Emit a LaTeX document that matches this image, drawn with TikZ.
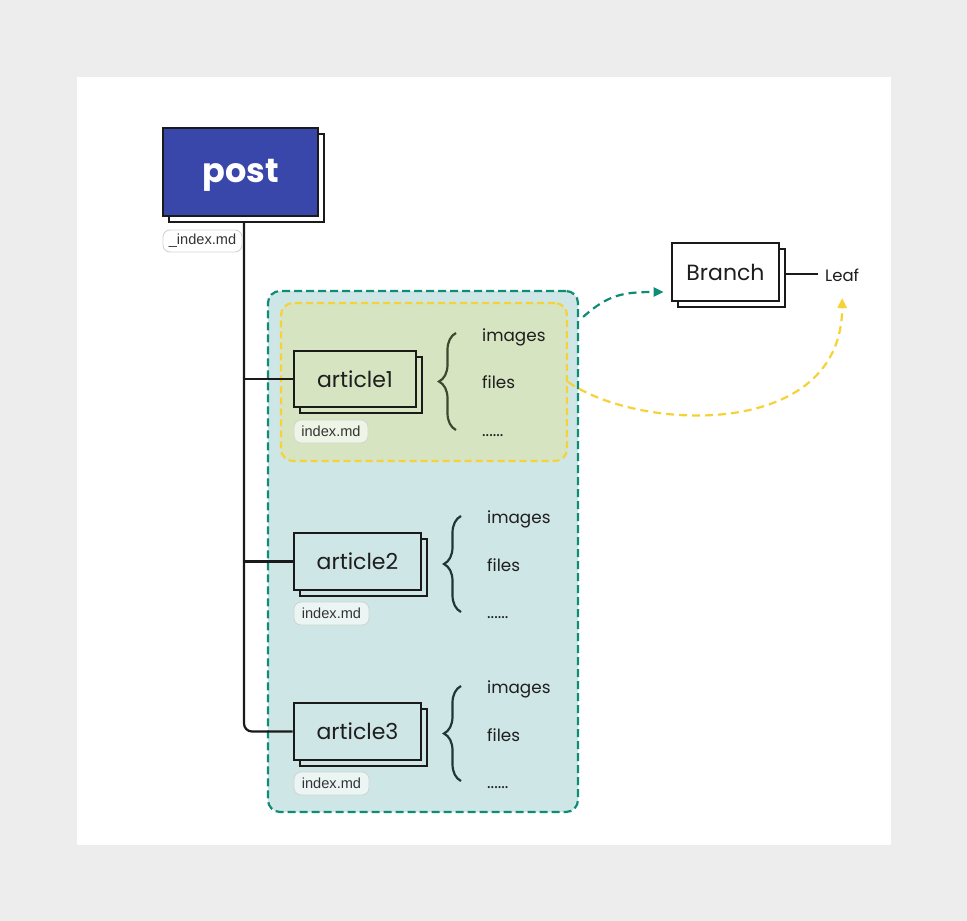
\documentclass[tikz,border=0pt]{standalone}
\usepackage{fontspec}
\setmainfont{Poppins}
\newfontfamily\arialfont{Liberation Sans}
\usetikzlibrary{arrows.meta,decorations.pathreplacing}
\definecolor{bggray}{HTML}{EDEDED}
\definecolor{postblue}{HTML}{3A47AA}
\definecolor{tealline}{HTML}{0E8C76}
\definecolor{tealfill}{HTML}{CEE6E5}
\definecolor{yelline}{HTML}{F7D236}
\definecolor{yelfill}{HTML}{D6E4C1}
\definecolor{boxline}{HTML}{1A1A1A}
\definecolor{textdark}{HTML}{1E1E1E}
\definecolor{labelline}{HTML}{D2D6D2}
\definecolor{labeltext}{HTML}{333333}
\definecolor{braceolive}{HTML}{3A4A2C}
\definecolor{braceteal}{HTML}{1D3836}
\begin{document}
\begin{tikzpicture}[x=1pt,y=-1pt,
  cardbox/.style={draw=boxline, line width=2.8pt, inner sep=0pt, font=\fontsize{22}{26}\selectfont, text=textdark},
  cardshadow/.style={draw=boxline, line width=2.8pt, inner sep=0pt},
  mdlabel/.style={draw=labelline, line width=0.9pt, rounded corners=7pt, inner sep=0pt, font=\arialfont\fontsize{14.6}{17}\selectfont, text=labeltext},
  item/.style={anchor=base west, inner sep=0pt, font=\fontsize{16.8}{20}\selectfont, text=textdark},
  bracestyle/.style={decorate, decoration={brace, amplitude=17pt}, line width=2.2pt},
  trunk/.style={draw=boxline, line width=2.2pt},
  region/.style={line width=2.2pt, rounded corners=12pt, inner sep=0pt},
]
\useasboundingbox (0,0) rectangle (967,921);
\fill[bggray] (0,0) rectangle (967,921);
\fill[white] (77,77) rectangle (891,845);

% containers
\node[region, draw=tealline, fill=tealfill, dash pattern=on 8pt off 4pt, minimum width=310pt, minimum height=521pt] (grp) at (423,551.5) {};
\node[region, draw=yelline, fill=yelfill, dash pattern=on 7pt off 4pt, minimum width=286pt, minimum height=158pt] (sel) at (424,382) {};

% article shadows and boxes
\node[cardshadow, fill=yelfill, minimum width=122pt, minimum height=56pt] (a1sh) at (361,385) {};
\node[cardbox, fill=yelfill, minimum width=122pt, minimum height=56pt] (a1) at (355,379) {article1};
\node[cardshadow, fill=tealfill, minimum width=127pt, minimum height=57pt] (a2sh) at (363.5,567.5) {};
\node[cardbox, fill=tealfill, minimum width=127pt, minimum height=57pt] (a2) at (357.5,561.5) {article2};
\node[cardshadow, fill=tealfill, minimum width=127pt, minimum height=57pt] (a3sh) at (363.5,737.5) {};
\node[cardbox, fill=tealfill, minimum width=127pt, minimum height=57pt] (a3) at (357.5,731.5) {article3};

% trunk
\coordinate (trunktop) at (244,222);
\draw[trunk, rounded corners=8pt] (trunktop) |- (a3.west);
\draw[trunk] (trunktop |- a1.west) -- (a1.west);
\draw[trunk] (trunktop |- a2.west) -- (a2.west);

% post
\node[cardshadow, fill=white, minimum width=155pt, minimum height=88pt] (postsh) at (246.5,178) {};
\node[cardbox, fill=postblue, text=white, font=\bfseries\fontsize{33.5}{38}\selectfont, text height=20pt, text depth=0pt, minimum width=155pt, minimum height=88pt] (post) at (240.5,172) {post};

% labels
\node[mdlabel, fill=white, minimum width=79pt, minimum height=22pt] (postmd) at (202.5,241) {\_index.md};
\node[mdlabel, fill=white, fill opacity=0.6, text opacity=1, minimum width=74pt, minimum height=23pt] (a1md) at (331,431.5) {index.md};
\node[mdlabel, fill=white, fill opacity=0.6, text opacity=1, minimum width=75pt, minimum height=23pt] (a2md) at (331.5,613.5) {index.md};
\node[mdlabel, fill=white, fill opacity=0.6, text opacity=1, minimum width=75pt, minimum height=23pt] (a3md) at (331.5,783.5) {index.md};

% braces
\draw[bracestyle, draw=braceolive] (456,430) -- (456,333);
\draw[bracestyle, draw=braceteal] (461,612) -- (461,516);
\draw[bracestyle, draw=braceteal] (461,781) -- (461,686);

% items
\node[item] (i1) at (482,341) {images};
\node[item] (f1) at (482,388) {files};
\node[item] (d1) at (482,436) {......};
\node[item] (i2) at (487,523) {images};
\node[item] (f2) at (487,571) {files};
\node[item] (d2) at (487,618) {......};
\node[item] (i3) at (487,693) {images};
\node[item] (f3) at (487,741) {files};
\node[item] (d3) at (487,788) {......};

% branch / leaf
\node[cardshadow, fill=white, minimum width=107pt, minimum height=58pt] (brsh) at (731.5,278) {};
\node[cardbox, fill=white, minimum width=107pt, minimum height=58pt] (branch) at (725.5,272) {Branch};
\node[anchor=west, inner sep=0pt, font=\fontsize{16.5}{20}\selectfont, text=textdark] (leaf) at (825,275) {Leaf};
\draw[trunk] (brsh.east |- 0,274) -- (818,274);

% dashed arrows
\coordinate (tealstart) at ([xshift=4pt,yshift=-27pt]grp.north east);
\coordinate (tealend) at ([xshift=-7pt,yshift=-20pt]branch.west);
\draw[tealline, line width=2.2pt, dash pattern=on 8pt off 5pt, -{Triangle[length=10pt,width=9pt]}]
  (tealstart) .. controls (608,295) and (622,292) .. (tealend);
\coordinate (leafend) at ([yshift=-23pt]leaf.center);
\draw[yelline, line width=2.2pt, dash pattern=on 8pt off 5pt, -{Triangle[length=10pt,width=9pt]}]
  (sel.east) .. controls (640,432) and (842,440) .. (leafend);
\end{tikzpicture}
\end{document}
